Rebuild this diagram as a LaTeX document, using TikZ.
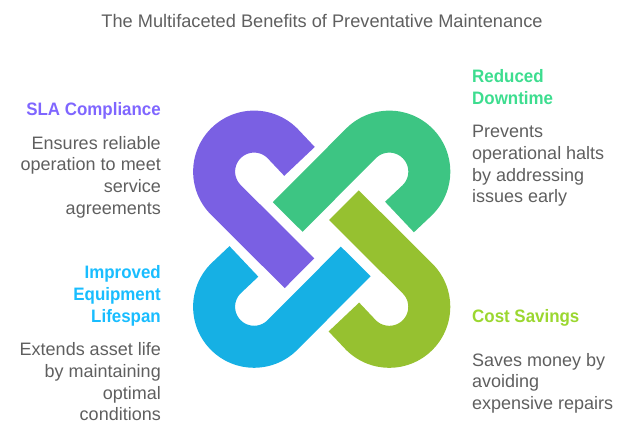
\documentclass[tikz,border=0pt]{standalone}
\usepackage{fontspec}
\setmainfont{Liberation Sans}
\newfontfamily\headfont[FakeStretch=0.94]{Liberation Sans}
\definecolor{cpurple}{HTML}{7A60E3}
\definecolor{cgreen}{HTML}{3DC583}
\definecolor{colive}{HTML}{96C130}
\definecolor{cblue}{HTML}{16B0E4}
\definecolor{hpurple}{HTML}{7F66FF}
\definecolor{hgreen}{HTML}{3DDD8F}
\definecolor{holive}{HTML}{9BD730}
\definecolor{hblue}{HTML}{19BDFF}
\definecolor{ctext}{HTML}{5F5F5F}
\tikzset{
  linkpath/.style={line width=42pt,line cap=butt,line join=round},
  bodytext/.style={text=ctext,font=\fontsize{18}{21.7}\selectfont,inner sep=0pt},
  headtext/.style={font=\fontsize{18}{21.7}\headfont\bfseries,inner sep=0pt},
  lft/.style={align=right,anchor=north east},
  rgt/.style={align=left,anchor=north west},
}
\newcommand{\linkshape}[2]{%
  \begin{scope}[shift={(321.7,-239.2)},rotate=#1]
    \draw[linkpath,#2] (-22.2,77.8) -- (-39.3,95.9) arc[start angle=45,end angle=225,radius=40pt] -- (-22.2,-34);
  \end{scope}}
\begin{document}
\begin{tikzpicture}[x=1pt,y=1pt]
\useasboundingbox (0,-436) rectangle (633,0);
\linkshape{0}{cpurple}
\linkshape{-90}{cgreen}
\linkshape{-180}{colive}
\linkshape{-270}{cblue}
\node[inner sep=0pt,text=ctext,font=\fontsize{18.2}{21}\selectfont,anchor=base] (title) at (322,-28) {The Multifaceted Benefits of Preventative Maintenance};
\node[headtext,lft,text=hpurple] (slah) at (161,-99.8) {\strut SLA Compliance};
\node[bodytext,lft] (slab) at (161,-133.8) {\strut Ensures reliable\\operation to meet\\service\\agreements};
\node[headtext,rgt,text=hgreen] (rdh) at (472,-67.3) {\strut Reduced\\Downtime};
\node[bodytext,rgt] (rdb) at (472,-122.3) {\strut Prevents\\operational halts\\by addressing\\issues early};
\node[headtext,lft,text=hblue] (ieh) at (161,-263.3) {\strut Improved\\Equipment\\Lifespan};
\node[bodytext,lft] (ieb) at (161,-340.3) {\strut Extends asset life\\by maintaining\\optimal\\conditions};
\node[headtext,rgt,text=holive] (csh) at (472,-306.8) {\strut Cost Savings};
\node[bodytext,rgt] (csb) at (472,-350.8) {\strut Saves money by\\avoiding\\expensive repairs};
\end{tikzpicture}
\end{document}
